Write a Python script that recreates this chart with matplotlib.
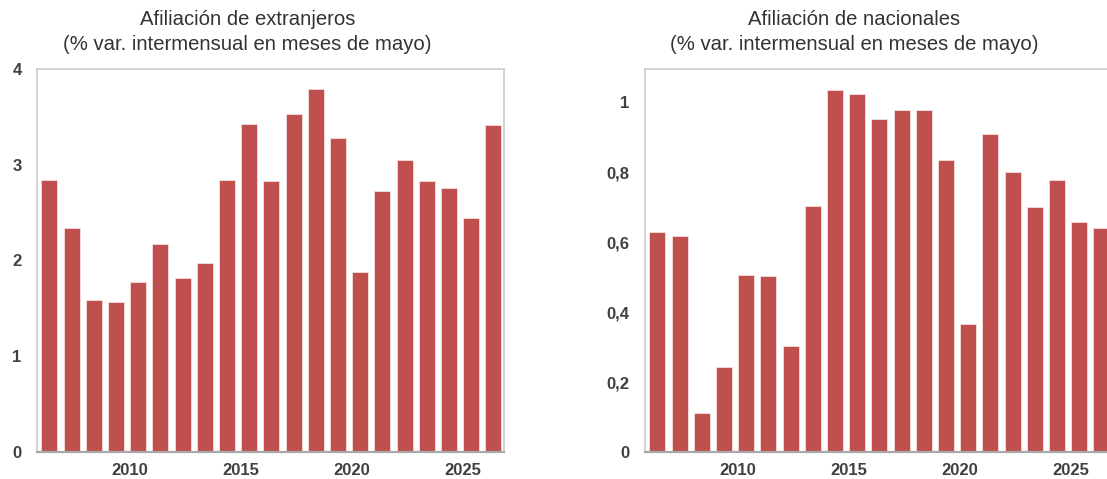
import datetime as dt
import matplotlib
matplotlib.use("Agg")
import matplotlib.pyplot as plt
import matplotlib.dates as mdates
from matplotlib.ticker import FuncFormatter

# Datos: variación intermensual de la afiliación en los meses de mayo (%)
years = list(range(2006, 2027))
extranjeros = [2.84, 2.34, 1.59, 1.57, 1.78, 2.17, 1.82, 1.97, 2.84, 3.43,
               2.83, 3.53, 3.79, 3.28, 1.88, 2.73, 3.05, 2.83, 2.76, 2.44, 3.41]
nacionales = [0.628, 0.618, 0.112, 0.244, 0.507, 0.502, 0.302, 0.702, 1.034,
              1.024, 0.952, 0.979, 0.979, 0.834, 0.365, 0.909, 0.801, 0.700,
              0.779, 0.658, 0.639]
titles = [("Afiliación de extranjeros", "(% var. intermensual en meses de mayo)"),
          ("Afiliación de nacionales", "(% var. intermensual en meses de mayo)")]
yticks_ext = [0, 1, 2, 3, 4]
yticks_nac = [0, 0.2, 0.4, 0.6, 0.8, 1.0]

plt.rcParams['font.family'] = ['Liberation Sans', 'DejaVu Sans']

BAR = '#C0504D'
TXT = '#404040'
W, H = 1107, 479

fig = plt.figure(figsize=(W / 100, H / 100), dpi=100)

dates = [dt.date(y, 5, 16) for y in years]
xmin = dt.date(2005, 10, 23)
xmax = dt.date(2026, 11, 6)


def fmt_es(v, _pos):
    s = f"{v:.1f}".rstrip('0').rstrip('.')
    return s.replace('.', ',')


def draw(left_px, values, yticks, ymax, title, title_cx):
    ax = fig.add_axes([left_px / W, (H - 452) / H, 467 / W, 383 / H])
    ax.bar(dates, values, width=263, color=BAR, edgecolor='#f3dede',
           linewidth=0.6, zorder=2)
    ax.set_xlim(xmin, xmax)
    ax.set_ylim(0, ymax)
    ax.xaxis.set_major_locator(mdates.YearLocator(5))
    ax.xaxis.set_major_formatter(mdates.DateFormatter('%Y'))
    ax.set_yticks(yticks)
    ax.yaxis.set_major_formatter(FuncFormatter(fmt_es))
    ax.tick_params(axis='both', length=0, labelsize=12, labelcolor=TXT)
    ax.tick_params(axis='y', pad=11)
    ax.tick_params(axis='x', pad=8)
    for lab in ax.get_xticklabels() + ax.get_yticklabels():
        lab.set_fontweight('bold')
    for side in ('left', 'top', 'right'):
        ax.spines[side].set_color('#cccccc')
        ax.spines[side].set_linewidth(1.2)
    ax.spines['bottom'].set_color('#a8a8a8')
    ax.spines['bottom'].set_linewidth(1.6)
    for line, base_px in zip(title, (25, 50.5)):
        fig.text(title_cx / W, 1 - base_px / H, line, ha='center',
                 va='baseline', fontsize=14.6, color='#333333')
    return ax


draw(37, extranjeros, yticks_ext, 4, titles[0], 247.5)
draw(645, nacionales, yticks_nac, 1.095, titles[1], 854)

fig.savefig('out.png', dpi=100)
